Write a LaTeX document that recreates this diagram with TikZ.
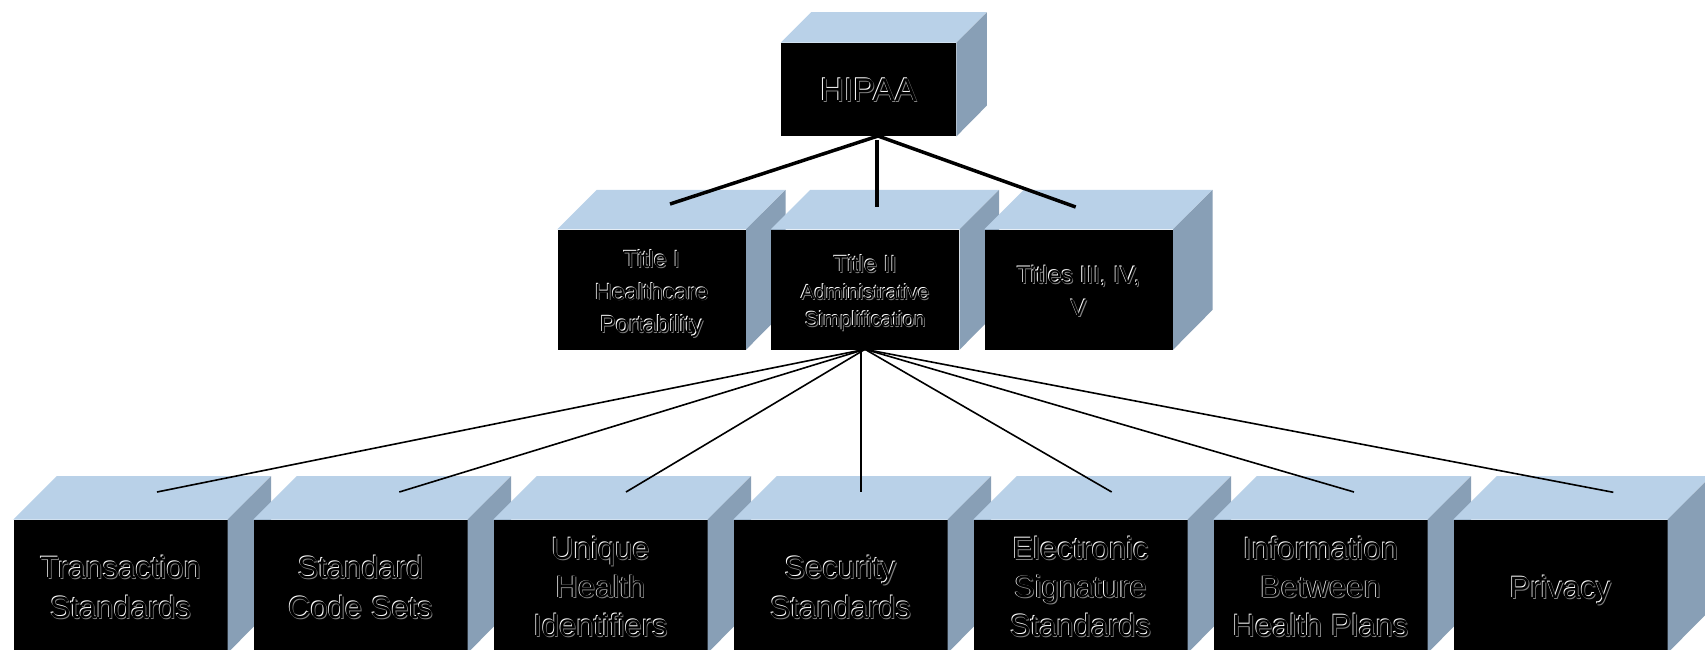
\documentclass[tikz,border=0pt]{standalone}
\usepackage{fontspec}
\setmainfont{Liberation Sans}
\definecolor{topc}{HTML}{B9D1E8}
\definecolor{sidec}{HTML}{889FB6}
\definecolor{embg}{gray}{0.5}
\newcommand\embtab[1]{\begin{tabular}{@{}c@{}}#1\end{tabular}}
\newcommand\emb[1]{\raisebox{-4pt}[\height][\depth]{\rlap{\kern-0.8pt\raisebox{0.8pt}{\color{white}\embtab{#1}}}\rlap{\kern0.8pt\raisebox{-0.8pt}{\color{embg}\embtab{#1}}}\embtab{#1}}}
\newcommand\cuboid[7]{%
  \node[frontface, minimum width=#4pt, minimum height=#5pt, anchor=north west] (#1) at (#2,#3) {#7};
  \fill[topc] (#1.north west) -- ++(#6,-#6) -- ++(#4,0) -- (#1.north east) -- cycle;
  \fill[sidec] (#1.north east) -- ++(#6,-#6) -- ++(0,#5) -- (#1.south east) -- cycle;
}
\tikzset{
  frontface/.style={fill=black, draw=none, inner sep=0pt, text=black},
  thickconn/.style={draw=black, line width=3.5pt},
  thinconn/.style={draw=black, line width=1.6pt},
}
\begin{document}
\begin{tikzpicture}[x=1pt, y=-1pt]
\useasboundingbox (0,0) rectangle (1705,649);
\fill[white] (0,0) rectangle (1705,649);
\clip (0,0) rectangle (1705,649);

% top
\cuboid{hipaa}{780.7}{42.7}{175.3}{93.3}{30.5}{\fontsize{33}{40}\selectfont\emb{HIPAA}}

% middle row
\cuboid{t1}{557.3}{229.3}{188.4}{120}{39.5}{\fontsize{23.5}{32.5}\selectfont\emb{Title I\\Healthcare\\Portability}}
\cuboid{t2}{770.8}{229.3}{188.4}{120}{39.5}{\fontsize{23.5}{30}\selectfont\emb{Title II\\[-3pt]{\fontsize{20.5}{28}\selectfont Administrative}\\[-3pt]{\fontsize{20.5}{28}\selectfont Simplification}}}
\cuboid{t3}{984.3}{229.3}{188.4}{120}{39.5}{\fontsize{24}{32.5}\selectfont\emb{Titles III, IV,\\V}}

% bottom row
\cuboid{b1}{13.3}{519.5}{214}{133}{43.4}{\fontsize{31}{40}\selectfont\emb{Transaction\\Standards}}
\cuboid{b2}{253.3}{519.5}{214}{133}{43.4}{\fontsize{31}{40}\selectfont\emb{Standard\\Code Sets}}
\cuboid{b3}{493.3}{519.5}{214}{133}{43.4}{\fontsize{31}{38.5}\selectfont\emb{Unique\\Health\\Identifiers}}
\cuboid{b4}{733.3}{519.5}{214}{133}{43.4}{\fontsize{31}{40}\selectfont\emb{Security\\Standards}}
\cuboid{b5}{973.3}{519.5}{214}{133}{43.4}{\fontsize{31}{38.5}\selectfont\emb{Electronic\\Signature\\Standards}}
\cuboid{b6}{1213.3}{519.5}{214}{133}{43.4}{\fontsize{31}{38.5}\selectfont\emb{Information\\Between\\Health Plans}}
\cuboid{b7}{1453.3}{519.5}{214}{133}{43.4}{\fontsize{31}{40}\selectfont\emb{Privacy}}

% connector anchor points
\coordinate (hipaaB) at (878,136);
\coordinate (hipaaV) at (877,140);
\coordinate (t1e) at (670,204);
\coordinate (t2e) at (877,207);
\coordinate (t3e) at (1075.7,207);
\coordinate (t2B) at (865,349.3);
\coordinate (t2V) at (861,350);
\coordinate (b1e) at (157,492);
\coordinate (b2e) at (399.3,492);
\coordinate (b3e) at (626,492);
\coordinate (b4e) at (861,492);
\coordinate (b5e) at (1111.7,492);
\coordinate (b6e) at (1354,492);
\coordinate (b7e) at (1613.3,492.3);

\draw[thickconn] (hipaaB) -- (t1e);
\draw[thickconn, line width=4pt] (hipaaV) -- (t2e);
\draw[thickconn] (hipaaB) -- (t3e);

\draw[thinconn] (t2B) -- (b1e);
\draw[thinconn] (t2B) -- (b2e);
\draw[thinconn] (t2B) -- (b3e);
\draw[thinconn] (t2V) -- (b4e);
\draw[thinconn] (t2B) -- (b5e);
\draw[thinconn] (t2B) -- (b6e);
\draw[thinconn] (t2B) -- (b7e);
\end{tikzpicture}
\end{document}
